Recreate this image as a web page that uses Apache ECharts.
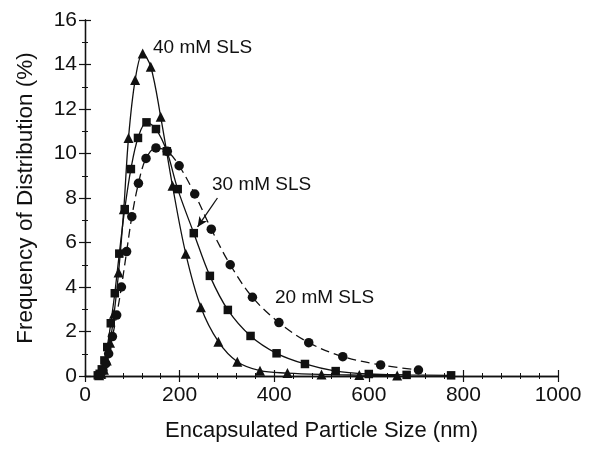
<!DOCTYPE html>
<html><head><meta charset="utf-8">
<script src="https://cdn.jsdelivr.net/npm/echarts@6/dist/echarts.min.js"></script>
<style>html,body{margin:0;padding:0;background:#fff}#c{width:616px;height:452px}</style>
</head><body><div id="c"></div>
<script>
// 40 mM SLS (triangles)
var size40 = [30, 34.5, 40, 46, 53, 61.5, 71, 82, 92, 106, 122, 139, 160, 185, 213, 245, 282, 322, 370, 428, 500, 580, 660];
var freq40 = [0.03, 0.1, 0.28, 0.7, 1.5, 2.8, 4.65, 7.5, 10.7, 13.3, 14.5, 13.9, 11.65, 8.55, 5.5, 3.09, 1.54, 0.64, 0.24, 0.13, 0.07, 0.04, 0.02];
// 30 mM SLS (squares)
var size30 = [27, 31, 35.5, 41, 47, 54.5, 63, 72.5, 84, 97, 112, 130, 150, 173, 196, 230, 264, 302, 350, 405, 465, 530, 600, 680, 774];
var freq30 = [0.03, 0.1, 0.3, 0.7, 1.3, 2.37, 3.72, 5.5, 7.5, 9.3, 10.7, 11.4, 11.1, 10.1, 8.4, 6.42, 4.5, 2.97, 1.8, 1.02, 0.54, 0.22, 0.09, 0.05, 0.03];
// 20 mM SLS (circles)
var size20 = [33, 38, 44, 50, 58, 67, 77, 88, 99, 113, 129, 150, 174, 199, 232, 267, 307, 354, 410, 473, 545, 625, 705];
var freq20 = [0.08, 0.25, 0.55, 1.0, 1.77, 2.74, 4.0, 5.59, 7.16, 8.66, 9.78, 10.25, 10.1, 9.45, 8.18, 6.6, 5.0, 3.54, 2.4, 1.5, 0.87, 0.5, 0.27];
var xTicks = [0, 200, 400, 600, 800, 1000];
var yTicks = [0, 2, 4, 6, 8, 10, 12, 14, 16];
var labels = ["40 mM SLS", "30 mM SLS", "20 mM SLS"];

function pairs(xs, ys){ return xs.map(function(x,i){ return [x, ys[i]]; }); }
var FONT = '"Liberation Sans", Arial, sans-serif';
var INK = '#111';
var chart = echarts.init(document.getElementById('c'), null, {renderer:'canvas'});
function axisBase(extra){
  var a = {
    type:'value', axisLine:{show:true, lineStyle:{color:INK, width:1.3}},
    axisTick:{show:true, inside:true, length:6, lineStyle:{color:INK, width:1.2}},
    minorTick:{show:true, length:3, lineStyle:{color:INK, width:1}},
    splitLine:{show:false}
  };
  for (var k in extra) a[k] = extra[k];
  return a;
}
var option = {
  animation:false,
  backgroundColor:'#fff',
  grid:{left:85, right:58, top:20, bottom:76},
  xAxis:[
    axisBase({position:'bottom', min:xTicks[0], max:xTicks[xTicks.length-1], interval:200,
      minorTick:{show:true, splitNumber:5, length:3, lineStyle:{color:INK, width:1}},
      axisLabel:{color:INK, fontSize:21, fontFamily:FONT, margin:9, formatter:function(v){return String(v);}},
      name:'Encapsulated Particle Size (nm)', nameLocation:'middle', nameGap:44,
      nameTextStyle:{color:INK, fontSize:22, fontFamily:FONT}}),
    axisBase({position:'top', min:0, max:1000, interval:200,
      minorTick:{show:true, splitNumber:5, length:3, lineStyle:{color:INK, width:1}},
      axisLabel:{show:false}})
  ],
  yAxis:[
    axisBase({position:'left', min:yTicks[0], max:yTicks[yTicks.length-1], interval:2,
      minorTick:{show:true, splitNumber:2, length:3, lineStyle:{color:INK, width:1}},
      axisLabel:{color:INK, fontSize:21, fontFamily:FONT, margin:8},
      name:'Frequency of Distribution (%)', nameLocation:'middle', nameGap:48,
      nameTextStyle:{color:INK, fontSize:22.5, fontFamily:FONT}}),
    axisBase({position:'right', min:0, max:16, interval:2,
      minorTick:{show:true, splitNumber:2, length:3, lineStyle:{color:INK, width:1}},
      axisLabel:{show:false}})
  ],
  series:[
    {name:labels[0], type:'line', data:pairs(size40, freq40), smooth:0.35,
     symbol:'triangle', symbolSize:10, showAllSymbol:true,
     itemStyle:{color:INK}, lineStyle:{color:INK, width:1.3}},
    {name:labels[1], type:'line', data:pairs(size30, freq30), smooth:0.35,
     symbol:'rect', symbolSize:8.5, showAllSymbol:true,
     itemStyle:{color:INK}, lineStyle:{color:INK, width:1.3},
     markLine:{silent:true, symbol:['none','arrow'], symbolSize:[7,10], label:{show:false},
       lineStyle:{color:INK, width:1.3, type:'solid'},
       data:[[{coord:[280, 8.0]}, {coord:[238, 6.7]}]]}},
    {name:labels[2], type:'line', data:pairs(size20, freq20), smooth:0.35,
     symbol:'circle', symbolSize:9.5, showAllSymbol:true,
     itemStyle:{color:INK}, lineStyle:{color:INK, width:1.3, type:[9,5]}}
  ],
  graphic:[
    {type:'text', left:153, top:38, style:{text:labels[0], fill:INK, font:'19px '+FONT}},
    {type:'text', left:212, top:175, style:{text:labels[1], fill:INK, font:'19px '+FONT}},
    {type:'text', left:275, top:288, style:{text:labels[2], fill:INK, font:'19px '+FONT}}
  ]
};
chart.setOption(option);
</script></body></html>
